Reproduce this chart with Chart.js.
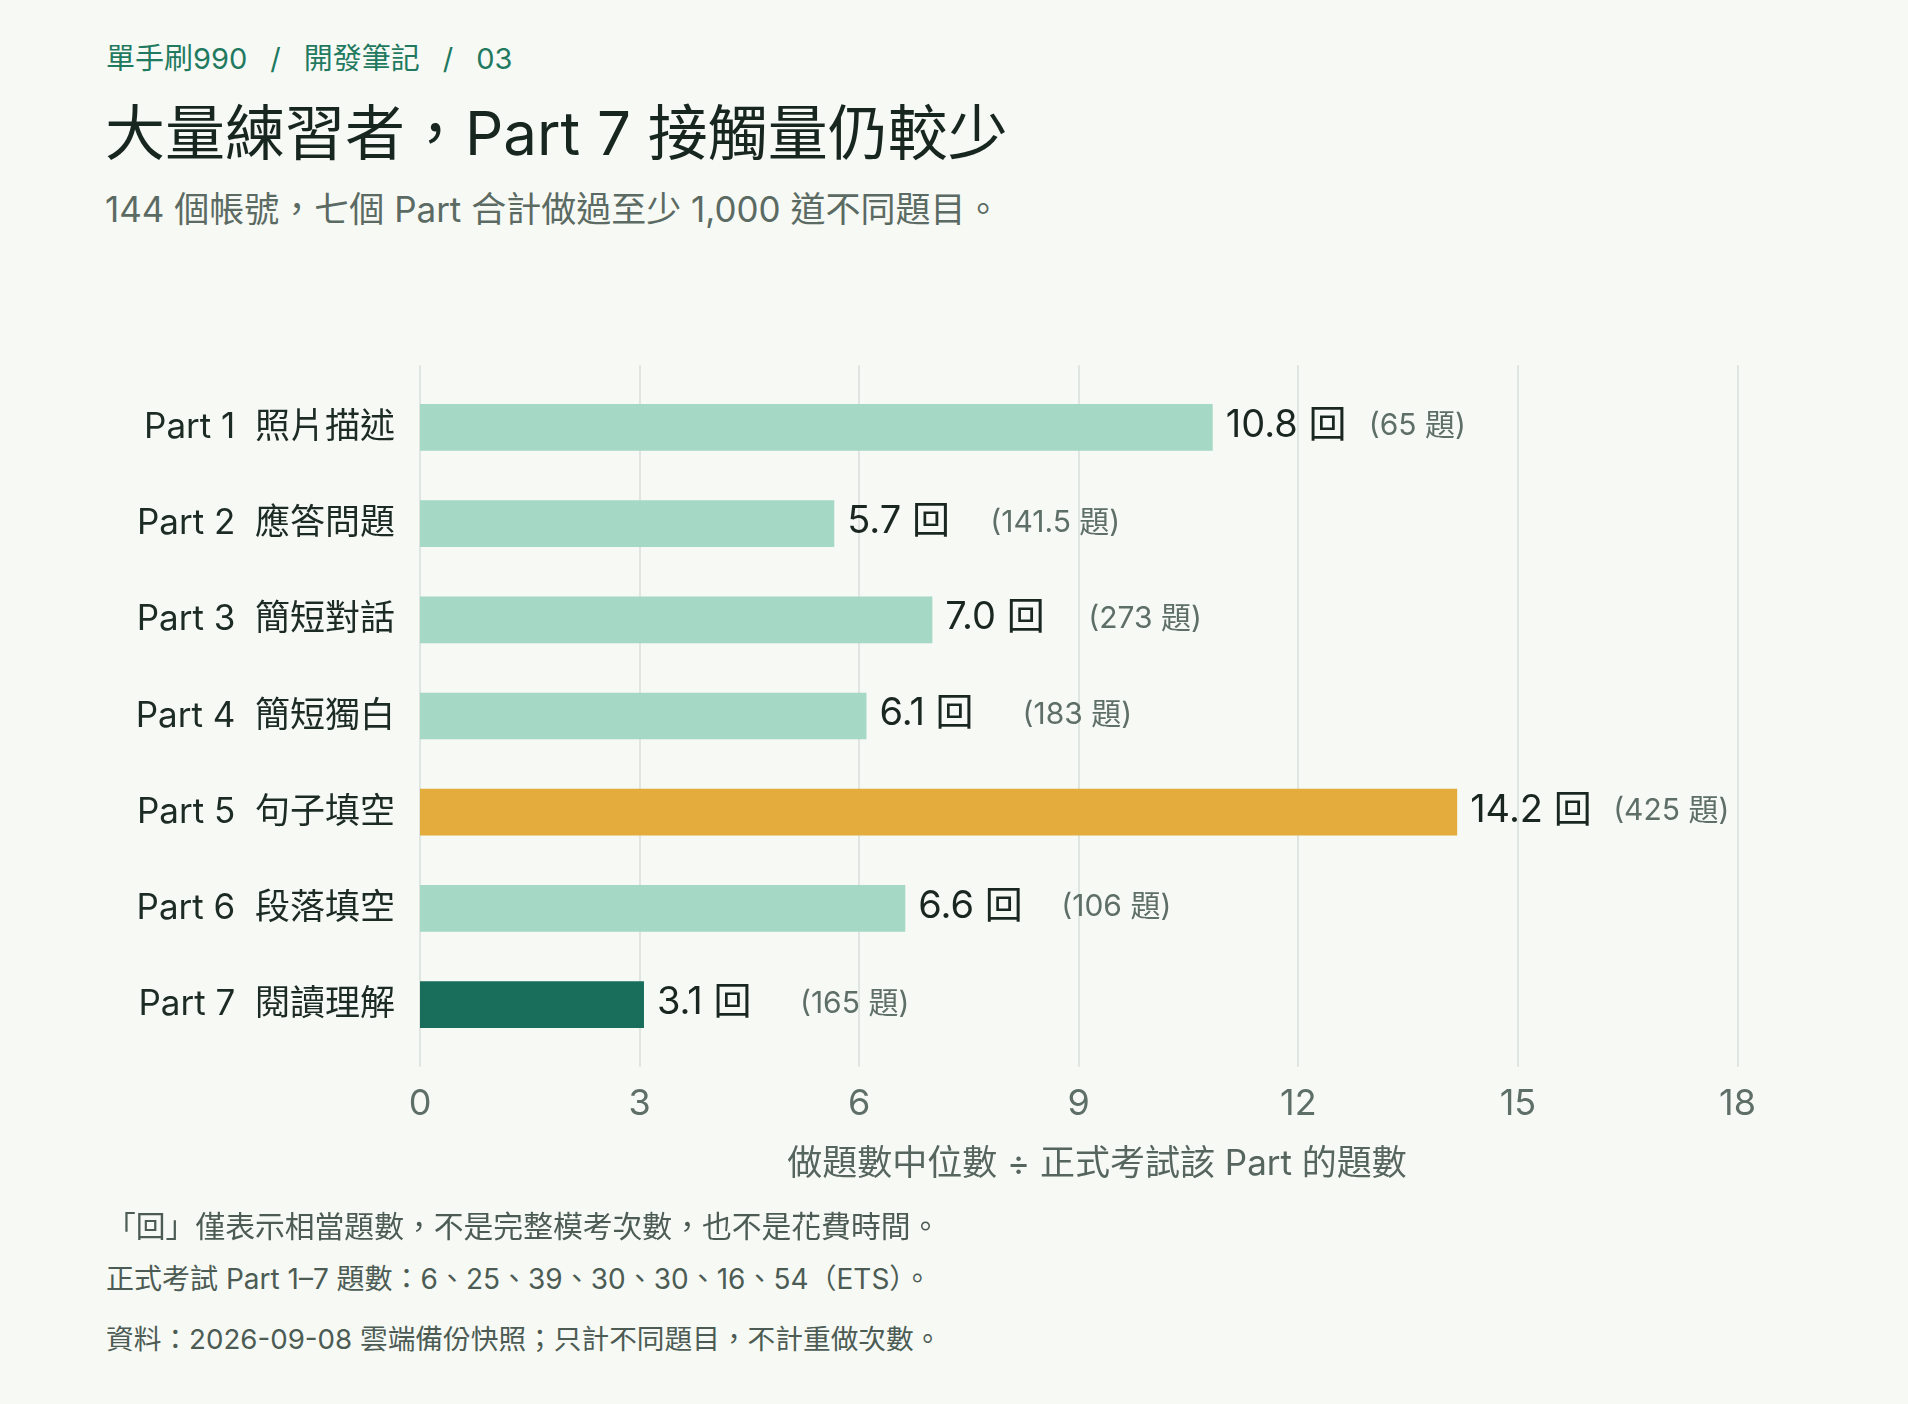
<!DOCTYPE html>
<html lang="zh-Hant">
<head>
<meta charset="utf-8">
<script src="https://cdn.jsdelivr.net/npm/chart.js@4.4.1/dist/chart.umd.min.js"></script>
<style>
  html, body { margin: 0; padding: 0; }
  body {
    width: 1908px; height: 1404px; position: relative; overflow: hidden;
    background: #f7f9f5;
    font-family: Inter, "Noto Sans CJK TC", sans-serif;
  }
  .abs { position: absolute; white-space: nowrap; line-height: 1; }
  #crumb { left: 106px; top: 44px; font-size: 29px; color: #1f7a5f; }
  #crumb .sep { margin: 0 23px; }
  #title { left: 105px; top: 103px; font-size: 60px; color: #17261f; }
  #subtitle { left: 105px; top: 192px; font-size: 35px; color: #5b6b63; }
  #chartBox { position: absolute; left: 0; top: 340px; width: 1908px; height: 880px; }
  #axisTitle { left: 597px; width: 1000px; text-align: center; top: 1145px; font-size: 35px; color: #56665e; }
  #note1 { left: 106px; top: 1212px; font-size: 29.8px; color: #4c5c54; }
  #note2 { left: 106px; top: 1265px; font-size: 28px; color: #4c5c54; }
  #note3 { left: 106px; top: 1326px; font-size: 27.7px; color: #4c5c54; }
</style>
</head>
<body>
<div id="crumb" class="abs">單手刷990<span class="sep">/</span>開發筆記<span class="sep">/</span>03</div>
<div id="title" class="abs">大量練習者，Part 7 接觸量仍較少</div>
<div id="subtitle" class="abs">144 個帳號，七個 Part 合計做過至少 1,000 道不同題目。</div>
<div id="chartBox"><canvas id="chart"></canvas></div>
<div id="axisTitle" class="abs">做題數中位數 ÷ 正式考試該 Part 的題數</div>
<div id="note1" class="abs">「回」僅表示相當題數，不是完整模考次數，也不是花費時間。</div>
<div id="note2" class="abs">正式考試 Part 1–7 題數：6、25、39、30、30、16、54（ETS）。</div>
<div id="note3" class="abs">資料：2026-09-08 雲端備份快照；只計不同題目，不計重做次數。</div>
<script>
const categories = ['Part 1  照片描述', 'Part 2  應答問題', 'Part 3  簡短對話', 'Part 4  簡短獨白', 'Part 5  句子填空', 'Part 6  段落填空', 'Part 7  閱讀理解'];
const roundValues = [10.83, 5.66, 7.0, 6.1, 14.17, 6.63, 3.06];
const valueLabels = ['10.8 回', '5.7 回', '7.0 回', '6.1 回', '14.2 回', '6.6 回', '3.1 回'];
const noteLabels = ['(65 題)', '(141.5 題)', '(273 題)', '(183 題)', '(425 題)', '(106 題)', '(165 題)'];
const xTickValues = [0, 3, 6, 9, 12, 15, 18];

const MINT = '#a5d8c5', GOLD = '#e4ac3d', DARK = '#186e5a';
const barColors = categories.map((c, i) => i === 4 ? GOLD : (i === 6 ? DARK : MINT));
const FONT = 'Inter, "Noto Sans CJK TC", sans-serif';

const gridPlugin = {
  id: 'extGrid',
  beforeDatasetsDraw(chart) {
    const { ctx, chartArea, scales } = chart;
    ctx.save();
    ctx.strokeStyle = '#dfe5e0';
    ctx.lineWidth = 2;
    xTickValues.forEach(v => {
      const px = Math.round(scales.x.getPixelForValue(v));
      ctx.beginPath();
      ctx.moveTo(px, chartArea.top - 14);
      ctx.lineTo(px, chartArea.bottom + 14);
      ctx.stroke();
    });
    ctx.restore();
  }
};

const labelPlugin = {
  id: 'barLabels',
  afterDatasetsDraw(chart) {
    const { ctx } = chart;
    const meta = chart.getDatasetMeta(0);
    ctx.save();
    ctx.textBaseline = 'middle';
    ctx.textAlign = 'left';
    meta.data.forEach((bar, i) => {
      ctx.fillStyle = '#1a2721';
      ctx.font = '38px ' + FONT;
      ctx.fillText(valueLabels[i], bar.x + 13, bar.y - 2);
      ctx.fillStyle = '#5e6f67';
      ctx.font = '30px ' + FONT;
      ctx.fillText(noteLabels[i], bar.x + 156, bar.y - 1);
    });
    ctx.restore();
  }
};

new Chart(document.getElementById('chart'), {
  type: 'bar',
  data: {
    labels: categories,
    datasets: [{
      data: roundValues,
      backgroundColor: barColors,
      borderWidth: 0,
      categoryPercentage: 1,
      barPercentage: 0.485
    }]
  },
  options: {
    indexAxis: 'y',
    responsive: true,
    maintainAspectRatio: false,
    animation: false,
    layout: { padding: { top: 39.3, right: 170.5, left: 0, bottom: 0 } },
    plugins: { legend: { display: false }, tooltip: { enabled: false } },
    scales: {
      x: {
        type: 'linear',
        min: 0, max: 18,
        afterBuildTicks(scale) { scale.ticks = xTickValues.map(v => ({ value: v })); },
        afterFit(scale) { scale.height = 167.3; scale.paddingLeft = 0; scale.paddingRight = 0; },
        grid: { display: false, drawTicks: false },
        border: { display: false },
        ticks: { font: { family: FONT, size: 36 }, color: '#5e6f67', padding: 30, maxRotation: 0 }
      },
      y: {
        afterFit(scale) { scale.width = 420; scale.paddingTop = 0; scale.paddingBottom = 0; },
        grid: { display: false, drawTicks: false },
        border: { display: false },
        ticks: { font: { family: FONT, size: 35 }, color: '#1c2b24', padding: 25 }
      }
    }
  },
  plugins: [gridPlugin, labelPlugin]
});
</script>
</body>
</html>
